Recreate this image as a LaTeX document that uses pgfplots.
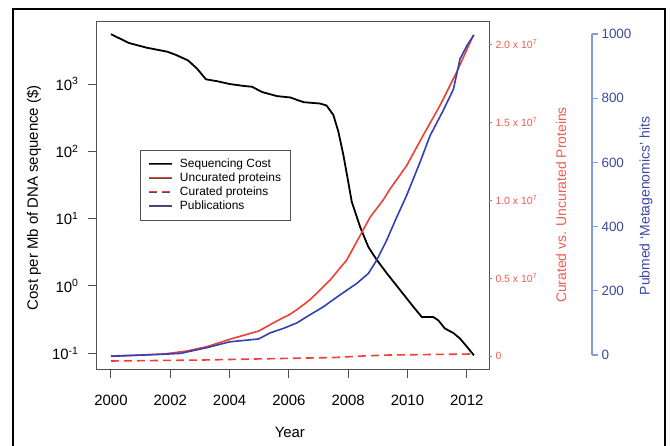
\documentclass[border=0pt]{standalone}
\usepackage{fontspec}
\setmainfont{Liberation Sans}
\usepackage{pgfplots}
\pgfplotsset{compat=1.18}
\definecolor{redline}{RGB}{238,64,52}
\definecolor{redtxt}{RGB}{238,92,82}
\definecolor{blueline}{RGB}{50,64,178}
\definecolor{bluetxt}{RGB}{60,72,160}
\definecolor{blueaxis}{RGB}{130,155,220}
\definecolor{boxgray}{RGB}{80,80,80}
\begin{document}
\begin{tikzpicture}
\path[use as bounding box] (-97bp,-77bp) rectangle (574bp,369bp);
\draw[line width=2.5bp] (-84bp,-95bp) rectangle (568bp,360bp);
% ---------------- left log axis
\begin{axis}[
  at={(0bp,0bp)}, anchor=south west, scale only axis,
  width=392bp, height=347bp,
  xmin=1999.528, xmax=2012.749,
  ymode=log, ymin=0.0585, ymax=8337,
  axis line style={draw=boxgray, line width=1bp},
  tick align=outside, xtick pos=bottom, ytick pos=left,
  major tick length=9bp,
  tick style={color=boxgray, line width=1bp},
  yminorticks=false,
  xtick={2000,2002,2004,2006,2008,2010,2012},
  xticklabels={2000,2002,2004,2006,2008,2010,2012},
  ytick={0.1,1,10,100,1000},
  yticklabels={10\textsuperscript{-1},10\textsuperscript{0},10\textsuperscript{1},10\textsuperscript{2},10\textsuperscript{3}},
  ticklabel style={font=\fontsize{15}{18}\selectfont},
  xticklabel style={yshift=-14bp},
  yticklabel style={xshift=-6bp},
  xlabel={Year}, ylabel={Cost per Mb of DNA sequence (\$)},
  label style={font=\fontsize{15}{18}\selectfont},
  xlabel style={at={(axis description cs:0.492,-0.1816)}, anchor=center},
  ylabel style={at={(axis description cs:-0.1607,0.493)}, anchor=center},
  legend cell align=left,
  legend style={at={(axis description cs:0.1097,0.631)}, anchor=north west,
    draw=none, postaction={draw=boxgray, line width=0.8bp},
    font=\fontsize{12}{14}\selectfont,
    inner xsep=8bp, inner ysep=7bp, row sep=0pt, column sep=6bp,
    nodes={inner sep=1bp, text height=9bp, text depth=3bp}},
]
\addplot[draw=black, line width=1.8bp,
  legend image code/.code={\color{black}\draw[draw=black, line width=1.8bp] (0bp,0bp) -- (23bp,0bp);}] coordinates {
(2000.0,5495)(2000.6,4074)(2001.2,3467)(2001.9,3020)(2002.2,2692)(2002.6,2239)
(2002.9,1698)(2003.2,1175)(2003.6,1096)(2004.0,1000)(2004.5,933)(2004.75,912)
(2005.1,759)(2005.6,661)(2006.05,631)(2006.3,575)(2006.5,537)(2007.05,513)
(2007.27,479)(2007.5,347)(2007.67,195)(2007.84,87.1)(2008.0,35.5)(2008.12,17.8)
(2008.4,7.59)(2008.68,3.80)(2008.96,2.45)(2009.3,1.55)(2009.75,0.871)(2010.2,0.490)
(2010.48,0.347)(2010.87,0.347)(2011.04,0.309)(2011.26,0.234)(2011.55,0.200)
(2011.77,0.166)(2012.0,0.126)(2012.24,0.0933)};
\addlegendentry{Sequencing Cost}
\addlegendimage{legend image code/.code={\color{redline}\draw[draw=redline, line width=1.6bp] (0bp,0bp) -- (23bp,0bp);}}
\addlegendentry{Uncurated proteins}
\addlegendimage{legend image code/.code={\color{redline}\draw[draw=redline, line width=1.6bp, dash pattern=on 8bp off 5bp] (0bp,0bp) -- (23bp,0bp);}}
\addlegendentry{Curated proteins}
\addlegendimage{legend image code/.code={\color{blueline}\draw[draw=blueline, line width=1.6bp] (0bp,0bp) -- (23bp,0bp);}}
\addlegendentry{Publications}
\end{axis}
% ---------------- red right axis
\begin{axis}[
  at={(0bp,0bp)}, anchor=south west, scale only axis,
  width=392bp, height=347bp,
  xmin=1999.528, xmax=2012.749,
  ymin=-0.0833, ymax=2.141,
  hide x axis, axis y line*=right,
  y axis line style={draw=none},
  tick align=outside, major tick length=3bp,
  ytick={0,0.5,1,1.5,2},
  yticklabels={0,0.5 x 10\textsuperscript{7},1.0 x 10\textsuperscript{7},1.5 x 10\textsuperscript{7},2.0 x 10\textsuperscript{7}},
  ytick style={color=redtxt, line width=0.8bp},
  yticklabel style={font=\fontsize{10.5}{12}\selectfont, color=redtxt},
  ylabel={Curated vs. Uncurated Proteins},
  ylabel style={at={(axis description cs:1.184,0.4726)}, anchor=center, color=redtxt, font=\fontsize{14}{16}\selectfont},
]
\addplot[redline, line width=1.6bp] coordinates {
(2000.0,0.0)(2001.0,0.006)(2001.8,0.013)(2002.56,0.032)(2003.24,0.06)(2004.0,0.107)
(2004.98,0.16)(2005.6,0.225)(2006.04,0.268)(2006.27,0.297)(2006.71,0.36)(2007.39,0.487)
(2007.95,0.615)(2008.51,0.81)(2008.74,0.89)(2009.18,1.0)(2009.41,1.07)(2009.97,1.22)
(2010.53,1.415)(2011.1,1.607)(2011.66,1.82)(2012.22,2.056)};
\addplot[redline, line width=1.6bp, dash pattern=on 8bp off 5bp] coordinates {
(2000.0,-0.032)(2003.0,-0.026)(2006.0,-0.015)(2007.5,-0.01)(2008.5,0.0)(2009.3,0.006)(2012.24,0.013)};
\end{axis}
% ---------------- blue outer axis
\begin{axis}[
  at={(0bp,14bp)}, anchor=south west, scale only axis,
  width=495bp, height=321bp,
  xmin=1999.528, xmax=2016.223,
  ymin=0, ymax=1000, clip=false,
  hide x axis, axis y line*=right,
  y axis line style={draw=blueaxis, line width=1.2bp},
  tick align=outside, major tick length=6bp,
  ytick={0,200,400,600,800,1000},
  yticklabels={0,200,400,600,800,1000},
  ytick style={color=blueaxis, line width=1.2bp},
  yticklabel style={font=\fontsize{13.5}{16}\selectfont, color=bluetxt},
  ylabel={Pubmed `Metagenomics' hits},
  ylabel style={at={(axis description cs:1.109,0.464)}, anchor=center, color=bluetxt, font=\fontsize{14}{16}\selectfont},
]
\addplot[blueline, line width=1.6bp] coordinates {
(2000.0,-4)(2001.66,2)(2002.34,5)(2003.24,23)(2004.0,41)(2004.98,50)(2005.37,69)
(2005.82,83)(2006.27,100)(2006.6,119)(2007.16,150)(2007.72,187)(2008.29,223)
(2008.68,254)(2008.96,295)(2009.3,358)(2009.64,430)(2009.97,497)(2010.42,600)
(2010.76,683)(2011.2,761)(2011.55,828)(2011.77,922)(2012.0,963)(2012.24,997)};
\end{axis}
\end{tikzpicture}
\end{document}
